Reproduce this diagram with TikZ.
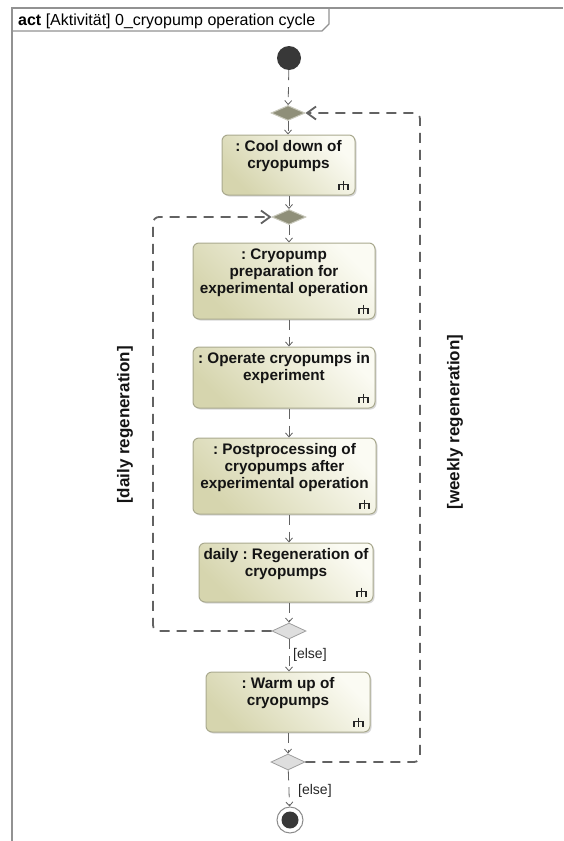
\documentclass[tikz,border=0pt]{standalone}
\usepackage{fontspec}
\setmainfont{Liberation Sans}
\usetikzlibrary{shapes.geometric,arrows.meta,shadows}
\frenchspacing

\definecolor{actlight}{HTML}{FBFBF3}
\definecolor{actdark}{HTML}{D6D5AE}
\definecolor{actborder}{HTML}{A9A98E}
\definecolor{flowgray}{HTML}{626262}
\definecolor{mergefill}{HTML}{8F8F79}
\definecolor{mergeedge}{HTML}{C9C9BC}
\definecolor{decfill}{HTML}{DEDEDE}
\definecolor{decedge}{HTML}{9E9E9E}
\definecolor{framegray}{HTML}{929292}

\tikzset{
  actbox/.style={draw=actborder, line width=1pt, rounded corners=6pt,
    left color=actdark, right color=actlight, shading angle=135,
    drop shadow={shadow xshift=1.5pt, shadow yshift=-1.5pt, opacity=.3},
    inner sep=0pt},
  acttext/.style={anchor=north, align=center, inner sep=0pt, yshift=-6pt,
    font=\fontsize{15.3}{17}\selectfont\bfseries, text=black!92},
  rakeline/.style={draw=black!85, line width=1.2pt},
  mergenode/.style={diamond, draw=mergeedge, fill=mergefill, line width=1pt,
    minimum width=34pt, minimum height=15pt, inner sep=0pt},
  decnode/.style={diamond, draw=decedge, fill=decfill, line width=0.8pt,
    minimum width=34pt, minimum height=16pt, inner sep=0pt},
  initnode/.style={circle, fill=black!78, minimum size=24pt, inner sep=0pt},
  finalnode/.style={circle, draw=black!45, fill=white, line width=1pt,
    minimum size=26pt, inner sep=0pt},
  finaldot/.style={circle, fill=black!78, minimum size=17pt, inner sep=0pt},
  flow/.style={draw=flowgray, line width=0.8pt, dash pattern=on 10pt off 7pt,
    -{Straight Barb[length=4pt,width=7pt]}},
  loopflow/.style={draw=flowgray, line width=1.8pt, dash pattern=on 10pt off 7pt,
    rounded corners=6pt, -{Straight Barb[length=9pt,width=13pt]}},
  guard/.style={anchor=west, inner sep=0pt, font=\fontsize{14}{16}\selectfont,
    text=black!85},
  looplabel/.style={rotate=90, inner sep=0pt,
    font=\fontsize{17}{19}\selectfont\bfseries, text=black!92}
}

% call behaviour rake in the lower right corner of an action
\newcommand{\rakeicon}[1]{%
  \draw[rakeline] ([shift={(-16.5,-11)}]#1.south east) ++(0,5) -- ++(0,-5) -- ++(9,0) -- ++(0,5)
    ([shift={(-12,-11)}]#1.south east) ++(0,-4) -- ++(0,9);}

\begin{document}
\begin{tikzpicture}[x=1pt, y=-1pt]
  \useasboundingbox (0,0) rectangle (563,841);

  % frame and header tab
  \draw[framegray, line width=1.2pt] (12,841) -- (12,8) -- (563,8);
  \draw[framegray, line width=1.2pt] (12,31) -- (322,31) -- (329,24) -- (329,8);
  \node[anchor=base west, inner sep=0pt, font=\fontsize{16}{18}\selectfont]
    (title) at (18,25) {\textbf{act} [Aktivität] 0\_cryopump operation cycle};

  % control nodes
  \node[initnode] (init) at (289,58) {};
  \node[mergenode] (m1) at (288,113) {};
  \node[mergenode] (m2) at (289,217) {};
  \node[decnode] (d1) at (289,631) {};
  \node[decnode] (d2) at (288,762) {};
  \node[finalnode] (fin) at (290,820) {};
  \node[finaldot] (findot) at (fin) {};

  % actions
  \node[actbox, minimum width=133pt, minimum height=60pt] (cool) at (288.5,165) {};
  \node[acttext] (coolt) at (cool.north) {: Cool down of\\cryopumps};
  \rakeicon{cool}
  \node[actbox, minimum width=182pt, minimum height=76pt] (prep) at (284,281) {};
  \node[acttext] (prept) at (prep.north) {: Cryopump\\preparation for\\experimental operation};
  \rakeicon{prep}
  \node[actbox, minimum width=182pt, minimum height=61pt] (oper) at (284,377.5) {};
  \node[acttext] (opert) at (oper.north) {: Operate cryopumps in\\experiment};
  \rakeicon{oper}
  \node[actbox, minimum width=183pt, minimum height=76pt] (post) at (284.5,476) {};
  \node[acttext] (postt) at (post.north) {: Postprocessing of\\cryopumps after\\experimental operation};
  \rakeicon{post}
  \node[actbox, minimum width=174pt, minimum height=59pt] (dreg) at (286,572.5) {};
  \node[acttext] (dregt) at (dreg.north) {daily : Regeneration of\\cryopumps};
  \rakeicon{dreg}
  \node[actbox, minimum width=164pt, minimum height=60pt] (warm) at (288,702) {};
  \node[acttext] (warmt) at (warm.north) {: Warm up of\\cryopumps};
  \rakeicon{warm}

  % flows
  \draw[flow] (init) -- (m1);
  \draw[flow] (m1) -- (m1 |- cool.north);
  \draw[flow] (m2 |- cool.south) -- (m2);
  \draw[flow] (m2) -- (m2 |- prep.north);
  \draw[flow] (m2 |- prep.south) -- (m2 |- oper.north);
  \draw[flow] (m2 |- oper.south) -- (m2 |- post.north);
  \draw[flow] (m2 |- post.south) -- (m2 |- dreg.north);
  \draw[flow] (d1 |- dreg.south) -- (d1);
  \draw[flow] (d1) -- (d1 |- warm.north);
  \draw[flow] (d2 |- warm.south) -- (d2);
  \draw[flow] (d2) -- (fin);

  % loops back
  \coordinate (dailyx) at (153,0);
  \coordinate (weeklyx) at (420,0);
  \draw[loopflow] (d1.west) -- (d1.west -| dailyx) |- (m2.west);
  \draw[loopflow] (d2.east) -- (d2.east -| weeklyx) |- (m1.east);

  % guards
  \node[guard] (else1) at (293,655) {[else]};
  \node[guard] (else2) at (298,791) {[else]};
  \node[looplabel] (dailylab) at (125,425) {[daily regeneration]};
  \node[looplabel] (weeklylab) at (455,422) {[weekly regeneration]};
\end{tikzpicture}
\end{document}
